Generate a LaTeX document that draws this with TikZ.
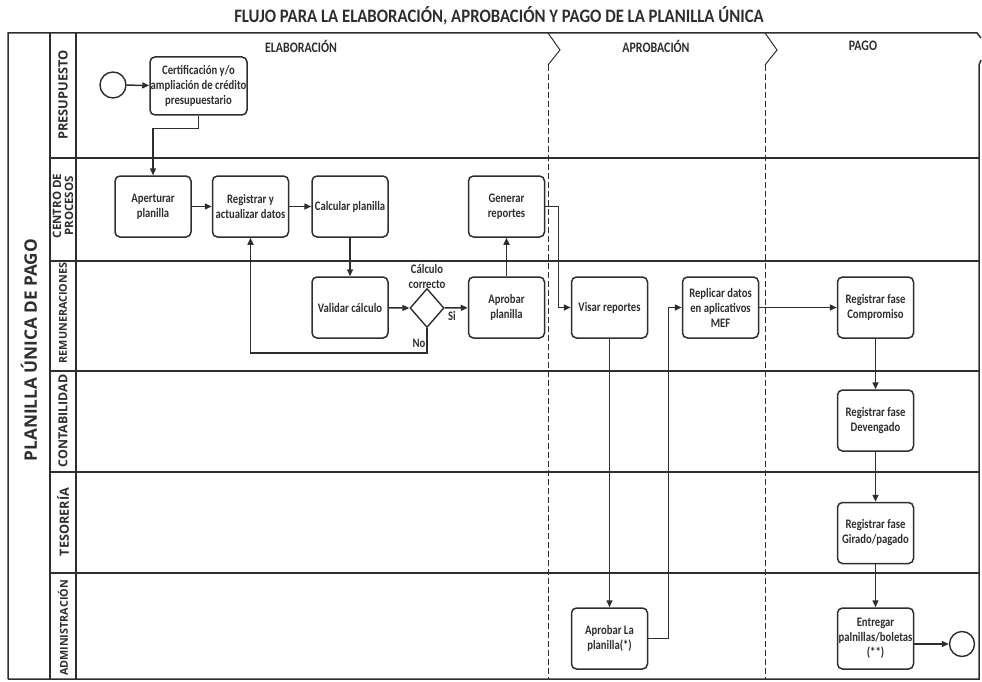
\documentclass[tikz,border=0pt]{standalone}
\usepackage{fontspec}
\usetikzlibrary{arrows.meta,shapes.geometric}
\newfontfamily\boxfont[FakeStretch=0.82]{Carlito}
\newfontfamily\titlefont[FakeStretch=0.88]{Carlito}
\newfontfamily\lanefont{Open Sans}
\definecolor{ln}{HTML}{2E2E2E}
\tikzset{
  task/.style={draw=ln, line width=1.5pt, rounded corners=5pt, minimum width=76pt, minimum height=61pt,
    inner sep=0pt, align=center, font=\boxfont\bfseries\fontsize{13}{15}\selectfont, text=ln},
  flow/.style={draw=ln, line width=1.5pt, -{Triangle[length=7pt,width=6pt]}},
  laneline/.style={draw=ln, line width=1.5pt},
  phaseline/.style={draw=ln, line width=1pt, dash pattern=on 6pt off 3pt},
  lanelabel/.style={rotate=90, inner sep=0pt, align=center, text=ln},
  event/.style={circle, draw=ln, line width=1.4pt, minimum size=26pt, inner sep=0pt},
  gateway/.style={diamond, draw=ln, line width=1.4pt, minimum width=34pt, minimum height=39pt, inner sep=0pt},
  phaselabel/.style={font=\boxfont\bfseries\fontsize{14.5}{16}\selectfont, text=ln},
  smalllabel/.style={font=\boxfont\bfseries\fontsize{13}{15}\selectfont, text=ln, align=center, inner sep=0pt}
}
\begin{document}
\begin{tikzpicture}[x=1pt,y=-1pt]
\useasboundingbox (0,0) rectangle (982,682);
% title
\node[font=\titlefont\bfseries\fontsize{19}{22}\selectfont, text=ln] (title) at (499,16) {FLUJO PARA LA ELABORACIÓN, APROBACIÓN Y PAGO DE LA PLANILLA ÚNICA};
% frame
\draw[laneline] (8,679) -- (8,33) -- (977,33) -- (981,38);
\draw[laneline] (981,60) -- (979,65) -- (979,679) -- (8,679);
\draw[laneline] (50,33) -- (50,679);
\draw[laneline] (76,33) -- (76,679);
\foreach \yy in {158,261,371,472,573} \draw[laneline] (50,\yy) -- (979,\yy);
% phase separators
\draw[draw=ln, line width=1pt] (548,33) -- (560,50) -- (548,65);
\draw[phaseline] (548,65) -- (548,679);
\draw[draw=ln, line width=1pt] (765,33) -- (777,50) -- (765,65);
\draw[phaseline] (765,65) -- (765,679);
% labels
\node[lanelabel, font=\lanefont\bfseries\fontsize{17.2}{20}\selectfont] (pool) at (29,350) {PLANILLA ÚNICA DE PAGO};
\node[lanelabel, font=\lanefont\bfseries\fontsize{12.8}{13}\selectfont] (l1) at (63,95) {PRESUPUESTO};
\node[lanelabel, font=\lanefont\bfseries\fontsize{11.5}{12}\selectfont] (l2) at (63,206) {CENTRO DE\\PROCESOS};
\node[lanelabel, font=\lanefont\bfseries\fontsize{10.8}{13}\selectfont] (l3) at (63,313) {REMUNERACIONES};
\node[lanelabel, font=\lanefont\bfseries\fontsize{12.4}{13}\selectfont] (l4) at (63,421) {CONTABILIDAD};
\node[lanelabel, font=\lanefont\bfseries\fontsize{12.7}{13}\selectfont] (l5) at (63,522) {TESORERÍA};
\node[lanelabel, font=\lanefont\bfseries\fontsize{10.8}{13}\selectfont] (l6) at (63,628) {ADMINISTRACIÓN};
\node[phaselabel] (p1) at (301,46) {ELABORACIÓN};
\node[phaselabel] (p2) at (656,46) {APROBACIÓN};
\node[phaselabel] (p3) at (863,46) {PAGO};
% nodes
\node[event] (start) at (113,85) {};
\node[task, minimum width=97pt, minimum height=58pt] (cert) at (198.5,86) {Certificación y/o\\ampliación de crédito\\presupuestario};
\node[task] (apert) at (153,206.5) {Aperturar\\planilla};
\node[task] (reg) at (250.5,206.5) {Registrar y\\actualizar datos};
\node[task] (calc) at (350,206.5) {Calcular planilla};
\node[task] (gen) at (506.5,206.5) {Generar\\reportes};
\node[task] (valid) at (350,307.5) {Validar cálculo};
\node[gateway] (dia) at (427,308) {};
\node[task] (aprob) at (506.5,307.5) {Aprobar\\planilla};
\node[task] (visar) at (609.5,307.5) {Visar reportes};
\node[task] (apl) at (609.5,638.5) {Aprobar La\\planilla(*)};
\node[task] (repl) at (720.5,307.5) {Replicar datos\\en aplicativos\\MEF};
\node[task] (comp) at (875.5,307.5) {Registrar fase\\Compromiso};
\node[task] (dev) at (875.5,420.5) {Registrar fase\\Devengado};
\node[task] (gir) at (875.5,533) {Registrar fase\\Girado/pagado};
\node[task] (ent) at (875.5,638.5) {Entregar\\palnillas/boletas\\(**)};
\node[event, minimum size=25pt] (end) at (962,644) {};
\node[smalllabel] (lc) at (427,276) {Cálculo\\correcto};
\node[smalllabel] (lsi) at (452,316) {Si};
\node[smalllabel] (lno) at (419,343) {No};
% connectors
\draw[flow] (start) -- (cert);
\draw[flow] (cert.south) -- ++(0,13) -| (apert.north);
\draw[flow] (apert) -- (reg);
\draw[flow] (reg) -- (calc);
\draw[flow] (calc) -- (valid);
\draw[flow] (valid) -- (dia.west);
\draw[flow] (dia.east) -- (aprob);
\draw[flow] (dia.south) -- ++(0,25) -| (reg.south);
\draw[flow] (aprob) -- (gen);
\draw[flow] (gen.east) -- ++(13,0) |- (visar.west);
\draw[flow] (visar) -- (apl);
\draw[flow] (apl.east) -- ++(20,0) |- (repl.west);
\draw[flow] (repl) -- (comp);
\draw[flow] (comp) -- (dev);
\draw[flow] (dev) -- (gir);
\draw[flow] (gir) -- (ent);
\draw[flow] (ent.east |- end) -- (end);
\end{tikzpicture}
\end{document}
